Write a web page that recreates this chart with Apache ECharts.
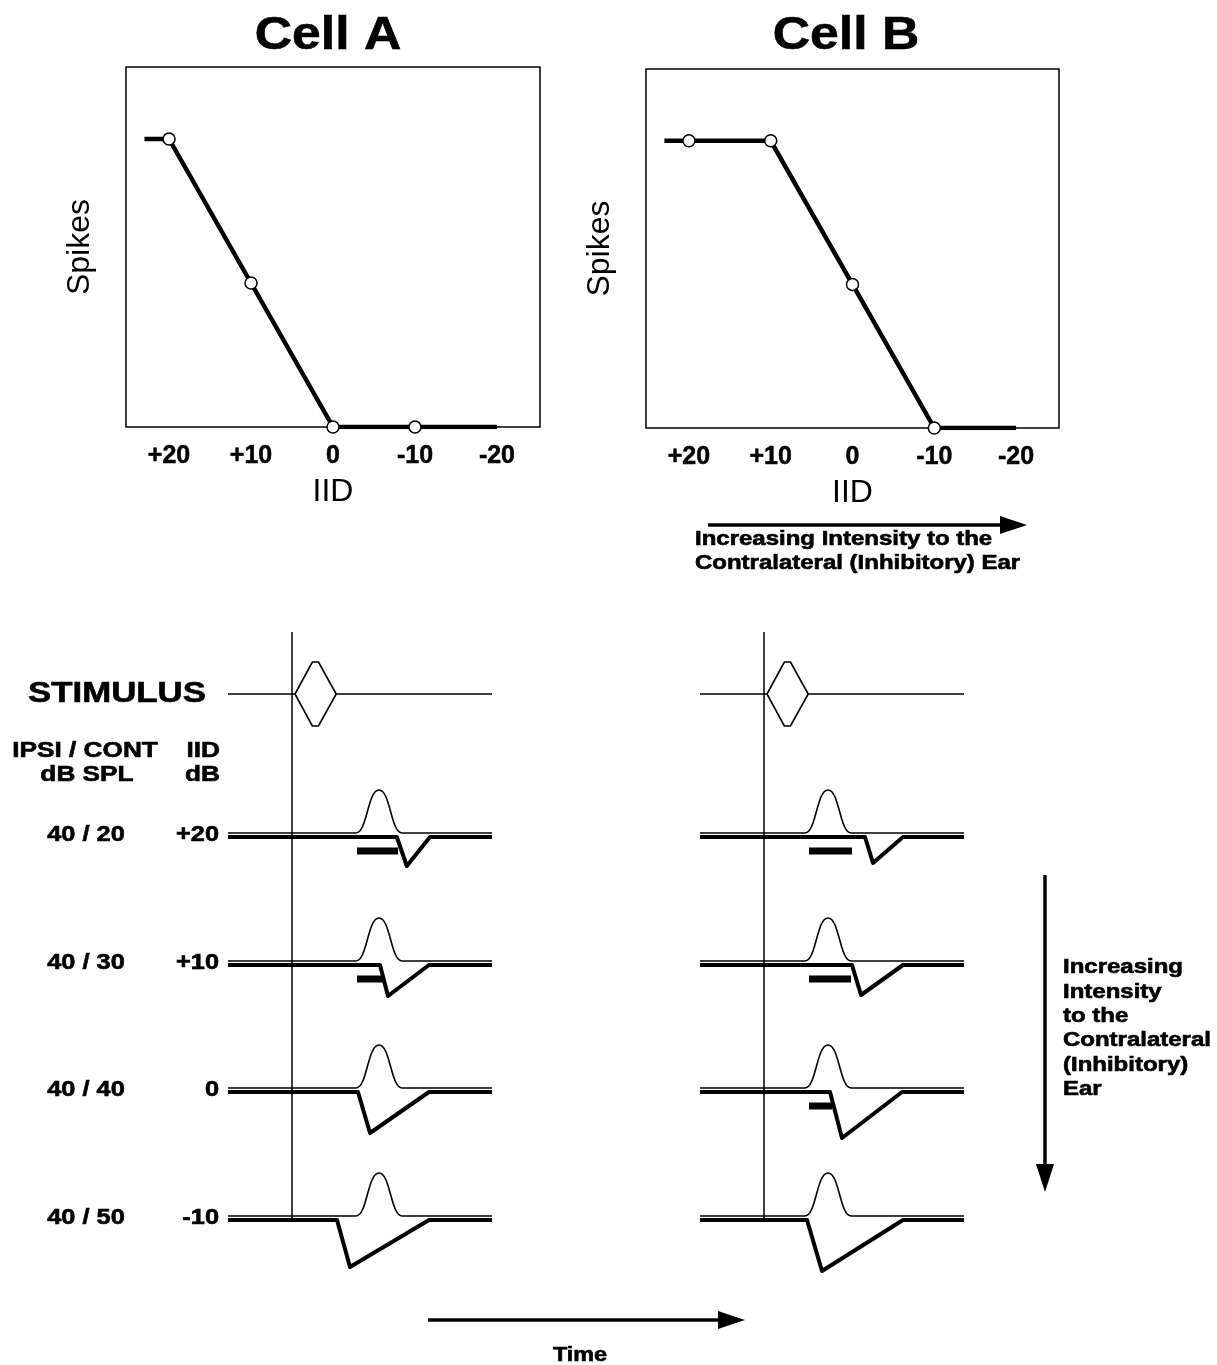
<!DOCTYPE html>
<html><head><meta charset="utf-8">
<script src="https://cdn.jsdelivr.net/npm/echarts@6/dist/echarts.min.js"></script>
<style>html,body{margin:0;padding:0;background:#fff}#c{width:1217px;height:1365px}</style>
</head><body><div id="c"></div>
<script>
// ---------- Top panels: spikes vs IID ----------
const iidTicks = [20, 10, 0, -10, -20];
const iidTickLabels = ['+20', '+10', '0', '-10', '-20'];
const iidPoints = [23, 20, 10, 0, -10, -20];
const spikesCellA = [80, 80, 40, 0, 0, 0];
const spikesCellB = [80, 80, 80, 40, 0, 0];
const markerShown = [false, true, true, true, true, false];

// ---------- Bottom panels: synaptic traces ----------
const rowLevels = ['40 / 20', '40 / 30', '40 / 40', '40 / 50'];
const rowIID = ['+20', '+10', '0', '-10'];
const stimulusTime = [0.75, 5.1, 6.6, 11.05];
const stimulusAmp = [0, 3.2, 3.2, 0];
const epspPeakTimeA = 21.75;
const epspPeakTimeB = 16;
const epspShapeOffset = [-5.8, 0, 5.8];
const epspShapeAmp = [0, 4.3, 0];
// IPSP (thick trace): onset, trough time, trough depth, end
const ipspOnsetA = [26.2, 22, 16.5, 11.25];
const ipspTroughTimeA = [28.7, 24, 19.5, 14.5];
const ipspDepthA = [-2.9, -3.1, -4.1, -4.7];
const ipspEndA = [34.5, 34.25, 34.25, 34.25];
const ipspOnsetB = [25.25, 22, 16.5, 10.75];
const ipspTroughTimeB = [27.25, 24.25, 19.5, 14.5];
const ipspDepthB = [-2.6, -3.0, -4.6, -5.1];
const ipspEndB = [34.75, 34.75, 34.5, 34.75];
// spike output windows (black bars)
const spikeStartA = [16.25, 16.25, null, null];
const spikeEndA = [26.5, 22.75, null, null];
const spikeStartB = [11.25, 11.25, 11.25, null];
const spikeEndB = [22, 21.75, 17, null];

// ---------- layout ----------
const T_MIN = -16, T_MAX = 50;
const ROW_Y = [-20.1, -32.9, -45.6, -58.4];
const STIM_Y = -6.2;
const THICK_OFFSET = -0.4;
const BAR_OFFSET = -1.8;
const FONT = '"Liberation Sans", Arial, Helvetica, sans-serif';

const chart = echarts.init(document.getElementById('c'), null, {renderer: 'canvas'});

function tickFmt(v) {
  const r = Math.round(v);
  if (Math.abs(v - r) > 1e-6) return '';
  const i = iidTicks.indexOf(r);
  return i >= 0 ? iidTickLabels[i] : '';
}

function topX(gi) {
  return {
    type: 'value', gridIndex: gi, inverse: true, min: -25.25, max: 25.25,
    axisLine: {show: false}, axisTick: {show: false}, splitLine: {show: false},
    axisLabel: {formatter: tickFmt, fontSize: 25, fontWeight: 'bold', color: '#000', margin: 17, fontFamily: FONT,
      textBorderColor: '#000', textBorderWidth: 0.5},
    name: 'IID', nameLocation: 'middle', nameGap: 49,
    nameTextStyle: {fontSize: 32, color: '#000', fontFamily: FONT}
  };
}
function topY(gi) {
  return {
    type: 'value', gridIndex: gi, min: 0, max: 100,
    axisLine: {show: false}, axisTick: {show: false}, splitLine: {show: false},
    axisLabel: {show: false},
    name: 'Spikes', nameLocation: 'middle', nameGap: 30, nameRotate: 90,
    nameTextStyle: {fontSize: 32, color: '#000', fontFamily: FONT}
  };
}
function topSeries(gi, vals) {
  return {
    type: 'line', xAxisIndex: gi, yAxisIndex: gi, z: 5,
    data: iidPoints.map((x, i) => ({value: [x, vals[i]], symbol: markerShown[i] ? 'circle' : 'none'})),
    symbolSize: 12, showAllSymbol: true,
    itemStyle: {color: '#fff', borderColor: '#000', borderWidth: 1.5},
    lineStyle: {color: '#000', width: 4.5},
    animation: false, silent: true
  };
}
function botX(gi) {
  return {type: 'value', gridIndex: gi, min: T_MIN, max: T_MAX, show: false};
}
function botY(gi) {
  return {type: 'value', gridIndex: gi, min: -64.8, max: 0, show: false};
}
function ln(gi, data, width, extra) {
  return Object.assign({
    type: 'line', xAxisIndex: gi, yAxisIndex: gi, data: data, symbol: 'none',
    lineStyle: {color: '#000', width: width, join: 'round'},
    animation: false, silent: true, clip: false
  }, extra || {});
}
function traceSeries(gi, peakT, onset, troughT, depth, end, sStart, sEnd) {
  const out = [];
  const su = [[T_MIN, STIM_Y]].concat(stimulusTime.map((t, k) => [t, STIM_Y + stimulusAmp[k]])).concat([[T_MAX, STIM_Y]]);
  const sl = stimulusTime.map((t, k) => [t, STIM_Y - stimulusAmp[k]]);
  out.push(ln(gi, su, 1.6));
  out.push(ln(gi, sl, 1.6));
  out.push(ln(gi, [[0, 0], [0, ROW_Y[3] + THICK_OFFSET]], 1.5));
  for (let i = 0; i < ROW_Y.length; i++) {
    const b = ROW_Y[i];
    const thin = [[T_MIN, b]].concat(epspShapeOffset.map((o, k) => [peakT + o, b + epspShapeAmp[k]])).concat([[T_MAX, b]]);
    out.push(ln(gi, thin, 1.6, {smooth: 0.5, smoothMonotone: 'x'}));
    const bt = b + THICK_OFFSET;
    out.push(ln(gi, [[T_MIN, bt], [onset[i], bt], [troughT[i], bt + depth[i]], [end[i], bt], [T_MAX, bt]], 4));
    if (sStart[i] != null) {
      out.push(ln(gi, [[sStart[i], b + BAR_OFFSET], [sEnd[i], b + BAR_OFFSET]], 7, {lineStyle: {color: '#000', width: 7, cap: 'butt'}}));
    }
  }
  return out;
}

const option = {
  backgroundColor: '#fff',
  animation: false,
  grid: [
    {left: 126, top: 67, width: 414, height: 360, show: true, borderColor: '#000', borderWidth: 1.5, backgroundColor: 'transparent'},
    {left: 646, top: 69, width: 413, height: 359, show: true, borderColor: '#000', borderWidth: 1.5, backgroundColor: 'transparent'},
    {left: 228, top: 632, width: 264, height: 648},
    {left: 700, top: 632, width: 264, height: 648}
  ],
  xAxis: [topX(0), topX(1), botX(2), botX(3)],
  yAxis: [topY(0), topY(1), botY(2), botY(3)],
  series: [topSeries(0, spikesCellA), topSeries(1, spikesCellB)]
    .concat(traceSeries(2, epspPeakTimeA, ipspOnsetA, ipspTroughTimeA, ipspDepthA, ipspEndA, spikeStartA, spikeEndA))
    .concat(traceSeries(3, epspPeakTimeB, ipspOnsetB, ipspTroughTimeB, ipspDepthB, ipspEndB, spikeStartB, spikeEndB))
};
chart.setOption(option);

function txt(x, y, text, size, align, scaleX, weight) {
  const bold = (weight || 'bold') === 'bold';
  return {
    type: 'text', x: x, y: y, scaleX: scaleX || 1, silent: true,
    style: {
      text: text, font: (weight || 'bold') + ' ' + size + 'px ' + FONT, fill: '#000',
      stroke: bold ? '#000' : null, lineWidth: bold ? 0.6 : 0,
      align: align, textAlign: align, verticalAlign: 'middle', textVerticalAlign: 'middle'
    }
  };
}
function arrow(x1, y1, x2, y2, head, halfW) {
  const dx = x2 - x1, dy = y2 - y1, L = Math.hypot(dx, dy);
  const ux = dx / L, uy = dy / L;
  const bx = x2 - ux * head, by = y2 - uy * head;
  return [
    {type: 'line', silent: true, shape: {x1: x1, y1: y1, x2: bx + ux * 2, y2: by + uy * 2}, style: {stroke: '#000', lineWidth: 3.5}},
    {type: 'polygon', silent: true, shape: {points: [[bx - uy * halfW, by + ux * halfW], [x2, y2], [bx + uy * halfW, by - ux * halfW]]}, style: {fill: '#000'}}
  ];
}

const els = [];
els.push(txt(328, 36, 'Cell A', 47, 'center', 1.1));
els.push(txt(846, 36, 'Cell B', 47, 'center', 1.1));
els.push(...arrow(708, 525, 1027, 525, 27, 9));
els.push(txt(695, 540, 'Increasing Intensity to the', 19.5, 'left', 1.23));
els.push(txt(695, 564, 'Contralateral (Inhibitory) Ear', 19.5, 'left', 1.23));
els.push(txt(28, 694, 'STIMULUS', 29, 'left', 1.2));
els.push(txt(85, 751, 'IPSI / CONT', 21.5, 'center', 1.22));
els.push(txt(87, 775, 'dB SPL', 21.5, 'center', 1.22));
els.push(txt(220, 751, 'IID', 21.5, 'right', 1.22));
els.push(txt(220, 775, 'dB', 21.5, 'right', 1.22));
for (let i = 0; i < ROW_Y.length; i++) {
  const py = chart.convertToPixel({gridIndex: 2}, [0, ROW_Y[i]])[1] + 2;
  els.push(txt(86, py, rowLevels[i], 21.5, 'center', 1.18));
  els.push(txt(219, py, rowIID[i], 21.5, 'right', 1.18));
}
els.push(...arrow(1045, 875, 1045, 1192, 28, 9));
['Increasing', 'Intensity', 'to the', 'Contralateral', '(Inhibitory)', 'Ear'].forEach((s, k) => {
  els.push(txt(1063, 968 + 24.3 * k, s, 19.5, 'left', 1.23));
});
els.push(...arrow(428, 1320, 745, 1320, 27, 9));
els.push(txt(580, 1356, 'Time', 19.5, 'center', 1.2));

chart.setOption({graphic: {elements: els}});
</script>
</body></html>
